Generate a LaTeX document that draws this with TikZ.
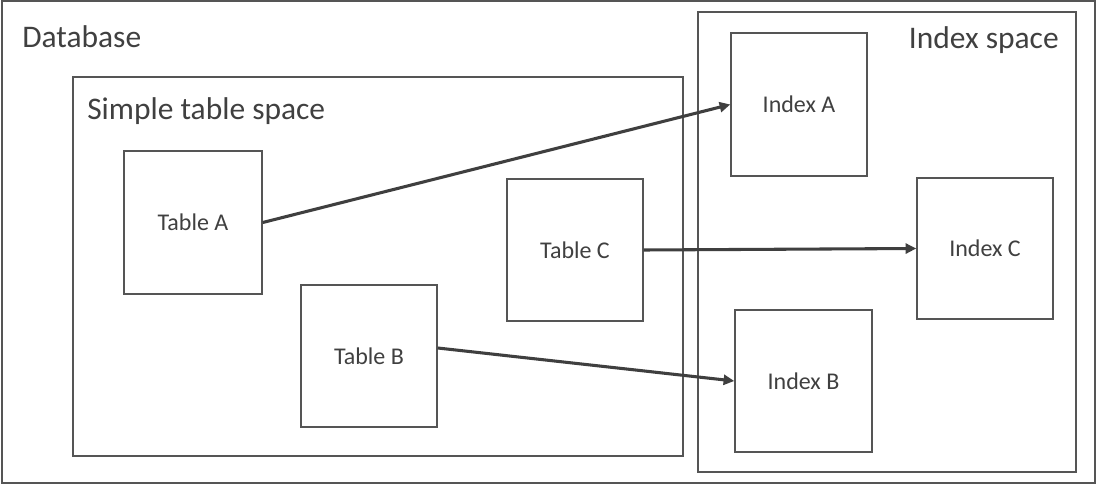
\documentclass[tikz,border=0pt]{standalone}
\usepackage{fontspec}
\setmainfont{Carlito}
\usetikzlibrary{arrows.meta,shadows}
\definecolor{edge}{HTML}{555555}
\definecolor{ink}{HTML}{404040}
\definecolor{arrowc}{HTML}{3F3F3F}
\begin{document}
\begin{tikzpicture}[x=0.75pt,y=-0.75pt,
  softshadow/.style={drop shadow={shadow xshift=1pt,shadow yshift=-1pt,opacity=0.18,fill=black!50}},
  frame/.style 2 args={draw=edge,line width=1.1pt,fill=white,inner sep=0pt,
    minimum width=#1*0.75pt,minimum height=#2*0.75pt,softshadow},
  box/.style 2 args={frame={#1}{#2},text=ink,font=\fontsize{18}{20}\selectfont},
  title/.style={text=ink,font=\fontsize{23.6}{26}\selectfont,inner sep=0pt},
  link/.style={draw=arrowc,line width=2.3pt,-{Triangle[length=8pt,width=7.5pt]}}]
  \useasboundingbox (0,0) rectangle (1097,485);

  % outer database frame
  \node[draw=edge,line width=1.1pt,inner sep=0pt,minimum width=1093*0.75pt,
        minimum height=482*0.75pt] (db) at (548.5,242) {};
  \node[title,anchor=base west] (dbl) at (22,48) {Database};

  % table space and index space containers
  \node[frame={610}{379}] (sts) at (378,266.5) {};
  \node[title,anchor=base west] (stsl) at (87,120) {Simple table space};
  \node[frame={378}{460}] (isp) at (887,242) {};
  \node[title,anchor=base east] (ispl) at (1059,49) {Index space};

  % tables
  \node[box={138}{143}] (ta) at (193,222.5) {Table A};
  \node[box={136}{142}] (tb) at (369,356) {Table B};
  \node[box={136}{142}] (tc) at (575,250) {Table C};

  % indexes
  \node[box={136}{143}] (ia) at (799,104.5) {Index A};
  \node[box={137}{142}] (ib) at (803.5,381) {Index B};
  \node[box={136}{141}] (ic) at (985,248.5) {Index C};

  % table to index links
  \draw[link] (ta.east) -- (ia.west);
  \draw[link] ([yshift=6pt]tb.east) -- (ib.west);
  \draw[link] (tc.east) -- (ic.west);
\end{tikzpicture}
\end{document}
